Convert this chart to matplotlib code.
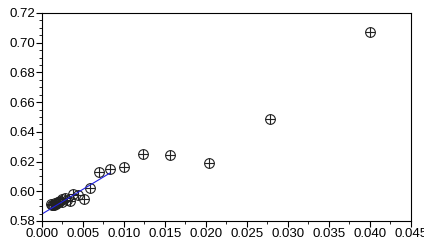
import matplotlib
matplotlib.use("Agg")
import matplotlib.pyplot as plt
from matplotlib.ticker import MultipleLocator, FormatStrFormatter

# measured points
x = [0.0400, 0.0278, 0.0204, 0.0156, 0.0123, 0.0100, 0.0083, 0.0070,
     0.0059, 0.0051, 0.0044, 0.0038, 0.0034, 0.0028, 0.0025, 0.0022,
     0.0019, 0.0017, 0.0015, 0.0013, 0.0011, 0.0012, 0.0016, 0.0020,
     0.0024, 0.0030]
y = [0.7075, 0.6485, 0.6190, 0.6245, 0.6250, 0.6163, 0.6150, 0.6132,
     0.6020, 0.5945, 0.5975, 0.5980, 0.5935, 0.5955, 0.5945, 0.5935,
     0.5925, 0.5915, 0.5905, 0.5910, 0.5915, 0.5905, 0.5920, 0.5930,
     0.5925, 0.5940]

# fitted line
fit_x = [0.0, 0.0083]
fit_y = [0.5847, 0.6123]

plt.rc('font', family=['Liberation Sans', 'DejaVu Sans'], size=9.5)
fig = plt.figure(figsize=(4.24, 2.45), dpi=100)
ax = fig.add_axes([0.099, 0.098, 0.870, 0.849])

ax.plot(x, y, linestyle='none', marker='o', markersize=7, markerfacecolor='none',
        markeredgecolor='#222222', markeredgewidth=0.8)
ax.plot(x, y, linestyle='none', marker='+', markersize=7,
        markeredgecolor='#222222', markeredgewidth=0.8)
ax.plot(fit_x, fit_y, color='#2020e0', linewidth=0.8)

ax.set_xlim(0, 0.045)
ax.set_ylim(0.58, 0.72)
ax.xaxis.set_major_locator(MultipleLocator(0.005))
ax.xaxis.set_minor_locator(MultipleLocator(0.0025))
ax.yaxis.set_major_locator(MultipleLocator(0.02))
ax.yaxis.set_minor_locator(MultipleLocator(0.005))
ax.xaxis.set_major_formatter(FormatStrFormatter('%.3f'))
ax.yaxis.set_major_formatter(FormatStrFormatter('%.2f'))
ax.tick_params(which='major', direction='out', length=4, width=0.8, pad=1)
ax.tick_params(which='minor', direction='out', length=2, width=0.6)
for s in ax.spines.values():
    s.set_linewidth(0.8)

plt.savefig("out.png", dpi=100)
